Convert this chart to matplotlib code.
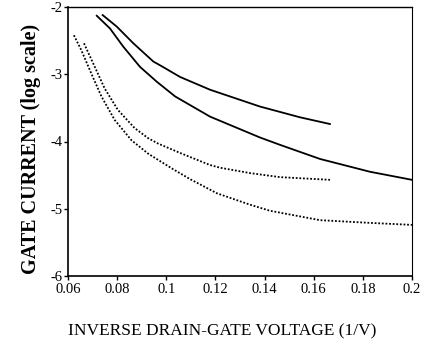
import matplotlib
matplotlib.use("Agg")
import matplotlib.pyplot as plt

# solid curves (upper and lower)
x_solid_hi = [0.0741, 0.0798, 0.0866, 0.0947, 0.0981, 0.1056, 0.1178, 0.1381, 0.1544, 0.1666]
y_solid_hi = [-2.12, -2.29, -2.54, -2.81, -2.88, -3.04, -3.23, -3.48, -3.64, -3.74]

x_solid_lo = [0.0717, 0.0771, 0.0825, 0.0893, 0.0961, 0.1036, 0.1178, 0.1381,
              0.1463, 0.1626, 0.1829, 0.2]
y_solid_lo = [-2.13, -2.32, -2.59, -2.89, -3.11, -3.33, -3.63, -3.94,
              -4.05, -4.26, -4.45, -4.57]

# dotted curves
x_dot_hi = [0.0665, 0.0709, 0.0749, 0.0803, 0.0871, 0.0926, 0.0966, 0.1056, 0.1178,
            0.1219, 0.1341, 0.1463, 0.1666]
y_dot_hi = [-2.54, -2.89, -3.21, -3.53, -3.80, -3.95, -4.03, -4.17, -4.35,
            -4.39, -4.47, -4.53, -4.57]

x_dot_lo = [0.0624, 0.0654, 0.0695, 0.0736, 0.0790, 0.0858, 0.0926, 0.0974, 0.1027,
            0.1097, 0.1206, 0.1341, 0.1422, 0.1626, 0.1829, 0.2]
y_dot_lo = [-2.42, -2.64, -2.99, -3.33, -3.68, -3.98, -4.18, -4.29, -4.41,
            -4.56, -4.77, -4.94, -5.03, -5.17, -5.21, -5.24]

xticks = [0.06, 0.08, 0.1, 0.12, 0.14, 0.16, 0.18, 0.2]
xtick_labels = ["0.06", "0.08", "0.1", "0.12", "0.14", "0.16", "0.18", "0.2"]
yticks = [-6, -5, -4, -3, -2]

plt.rcParams["font.family"] = ["Liberation Serif", "DejaVu Serif"]
plt.rcParams["axes.unicode_minus"] = False

fig = plt.figure(figsize=(4.26, 3.49), dpi=100)
ax = fig.add_axes([68 / 426, 73 / 349, 344 / 426, 269 / 349])

ax.plot(x_solid_hi, y_solid_hi, color="black", lw=1.3)
ax.plot(x_solid_lo, y_solid_lo, color="black", lw=1.3)
ax.plot(x_dot_hi, y_dot_hi, color="black", lw=1.3, linestyle=(0, (1, 1)))
ax.plot(x_dot_lo, y_dot_lo, color="black", lw=1.3, linestyle=(0, (1, 1)))

ax.set_xlim(0.06, 0.2)
ax.set_ylim(-6, -2)
ax.set_xticks(xticks)
ax.set_xticklabels(xtick_labels)
ax.set_yticks(yticks)
ax.tick_params(direction="out", length=3, width=1, labelsize=10.5, pad=1)
ax.tick_params(axis="x", pad=2)

for s in ax.spines.values():
    s.set_linewidth(1.2)
ax.spines["right"].set_linewidth(0.8)
ax.spines["top"].set_linewidth(1.0)

fig.text(31 / 426, 1 - 149 / 349, "GATE CURRENT (log scale)", rotation=90,
         ha="center", va="center", fontsize=14.5, fontweight="bold")
fig.text(222 / 426, 1 - 331 / 349, "INVERSE DRAIN-GATE VOLTAGE (1/V)",
         ha="center", va="center", fontsize=12.5)

fig.savefig("out.png", dpi=100)
